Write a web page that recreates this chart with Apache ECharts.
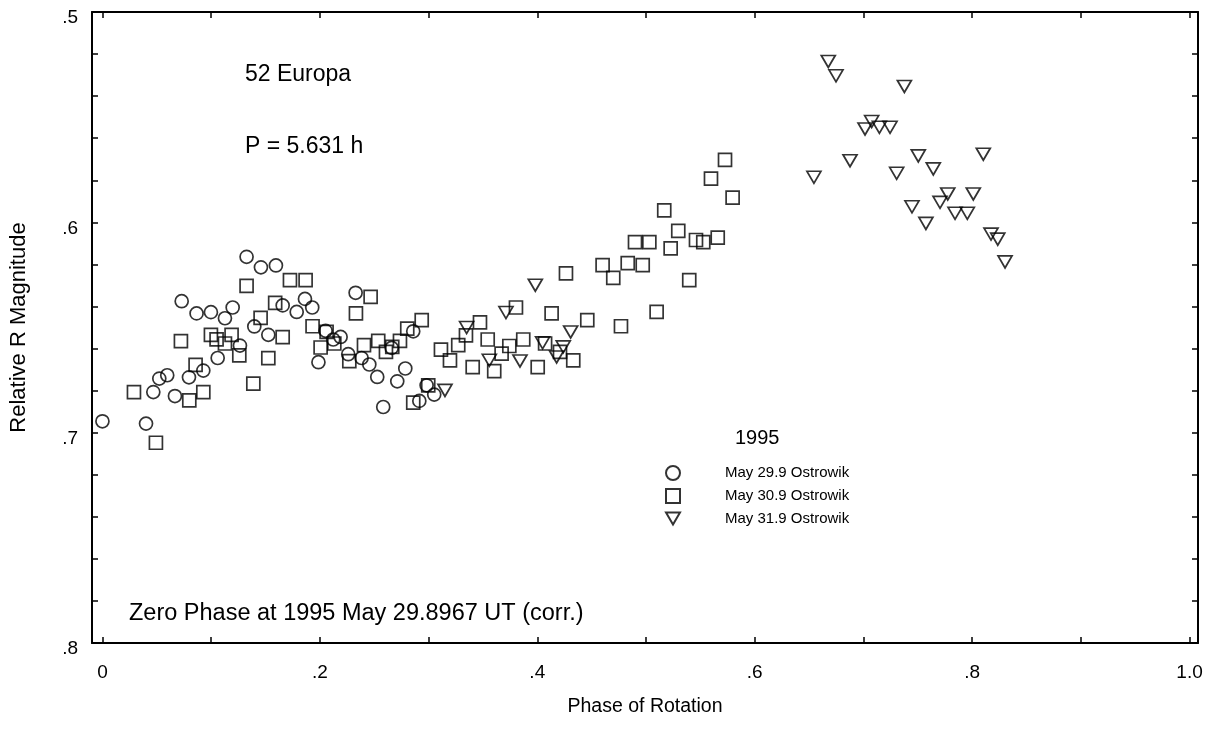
<!DOCTYPE html>
<html>
<head>
<meta charset="utf-8">
<script src="https://cdn.jsdelivr.net/npm/echarts@6/dist/echarts.min.js"></script>
<style>
  html, body { margin: 0; padding: 0; background: #fff; }
  #chart { width: 1215px; height: 742px; }
</style>
</head>
<body>
<div id="chart"></div>
<script>
// phase of rotation, relative R magnitude
const may29 = [
  [0.000, 0.6946], [0.0401, 0.6957], [0.0468, 0.6807], [0.0523, 0.6743], [0.0596, 0.6727],
  [0.0667, 0.6826], [0.0729, 0.6375], [0.0796, 0.6737], [0.0866, 0.6433], [0.0928, 0.6705],
  [0.0998, 0.6427], [0.1060, 0.6645], [0.1127, 0.6456], [0.1198, 0.6405], [0.1265, 0.6586],
  [0.1326, 0.6164], [0.1397, 0.6495], [0.1458, 0.6214], [0.1526, 0.6535], [0.1596, 0.6205],
  [0.1658, 0.6395], [0.1787, 0.6426], [0.1863, 0.6364], [0.1930, 0.6405], [0.1987, 0.6665],
  [0.2053, 0.6516], [0.2123, 0.6557], [0.2191, 0.6545], [0.2261, 0.6627], [0.2329, 0.6335],
  [0.2384, 0.6645], [0.2455, 0.6676], [0.2528, 0.6735], [0.2583, 0.6878], [0.2661, 0.6597],
  [0.2712, 0.6756], [0.2786, 0.6695], [0.2859, 0.6518], [0.2915, 0.6849], [0.2982, 0.6775],
  [0.3052, 0.6819]
];

const may30 = [
  [0.0290, 0.6807], [0.0492, 0.7048], [0.0722, 0.6565], [0.0799, 0.6846], [0.0857, 0.6678],
  [0.0928, 0.6807], [0.0998, 0.6535], [0.1050, 0.6556], [0.1127, 0.6576], [0.1188, 0.6535],
  [0.1259, 0.6633], [0.1326, 0.6302], [0.1388, 0.6767], [0.1455, 0.6454], [0.1526, 0.6646],
  [0.1589, 0.6383], [0.1658, 0.6546], [0.1725, 0.6275], [0.1869, 0.6275], [0.1933, 0.6494],
  [0.2007, 0.6595], [0.2062, 0.6521], [0.2133, 0.6576], [0.2271, 0.6660], [0.2332, 0.6433],
  [0.2406, 0.6584], [0.2467, 0.6354], [0.2537, 0.6564], [0.2608, 0.6616], [0.2666, 0.6592],
  [0.2737, 0.6564], [0.2804, 0.6505], [0.2859, 0.6857], [0.2937, 0.6465], [0.2997, 0.6775],
  [0.3114, 0.6605], [0.3197, 0.6656], [0.3273, 0.6584], [0.3344, 0.6537], [0.3406, 0.6688],
  [0.3473, 0.6476], [0.3544, 0.6557], [0.3604, 0.6707], [0.3672, 0.6624], [0.3743, 0.6588],
  [0.3804, 0.6405], [0.3871, 0.6557], [0.4004, 0.6688], [0.4072, 0.6576], [0.4132, 0.6433],
  [0.4209, 0.6616], [0.4264, 0.6243], [0.4331, 0.6656], [0.4460, 0.6465], [0.4601, 0.6203],
  [0.4699, 0.6264], [0.4770, 0.6494], [0.4832, 0.6194], [0.4899, 0.6094], [0.4970, 0.6203],
  [0.5031, 0.6094], [0.5098, 0.6426], [0.5168, 0.5943], [0.5227, 0.6124], [0.5297, 0.6041],
  [0.5398, 0.6275], [0.5460, 0.6084], [0.5527, 0.6094], [0.5598, 0.5792], [0.5660, 0.6073],
  [0.5727, 0.5703], [0.5797, 0.5883]
];

const may31 = [
  [0.3151, 0.6799], [0.3350, 0.6500], [0.3559, 0.6656], [0.3712, 0.6429], [0.3841, 0.6659],
  [0.3982, 0.6299], [0.4049, 0.6573], [0.4178, 0.6640], [0.4239, 0.6592], [0.4307, 0.6521],
  [0.6545, 0.5786], [0.6677, 0.5235], [0.6748, 0.5303], [0.6877, 0.5707], [0.7015, 0.5556],
  [0.7076, 0.5521], [0.7147, 0.5548], [0.7245, 0.5548], [0.7306, 0.5767], [0.7377, 0.5354],
  [0.7447, 0.5926], [0.7505, 0.5684], [0.7575, 0.6005], [0.7643, 0.5746], [0.7705, 0.5905],
  [0.7776, 0.5865], [0.7843, 0.5957], [0.7956, 0.5957], [0.8011, 0.5865], [0.8103, 0.5676],
  [0.8174, 0.6056], [0.8236, 0.6080], [0.8303, 0.6188]
];

const xTicks = [0, 0.1, 0.2, 0.3, 0.4, 0.5, 0.6, 0.7, 0.8, 0.9, 1.0];
const xLabels = [0, 0.2, 0.4, 0.6, 0.8, 1.0];

const FONT = '"Liberation Sans", Arial, Helvetica, sans-serif';
const triangleDown = 'path://M0,0L10,0L5,8.66Z';

let chart = echarts.init(document.getElementById('chart'));

function fmt(v) {
    if (v === 0) return '0';
    if (v === 1) return '1.0';
    return v.toFixed(1).replace(/^0/, '');
}

function xAxisDef(pos, showLabels) {
    return {
        type: 'value',
        position: pos,
        min: -0.0096,
        max: 1.0078,
        axisLine: { show: true, onZero: false, lineStyle: { color: '#000', width: 2 } },
        axisTick: { show: true, inside: true, length: 6, customValues: xTicks, lineStyle: { color: '#000', width: 1.5 } },
        axisLabel: {
            show: showLabels, customValues: xLabels, formatter: fmt,
            color: '#000', fontFamily: FONT, fontSize: 19, margin: 20
        },
        splitLine: { show: false },
        name: showLabels ? 'Phase of Rotation' : '',
        nameLocation: 'middle',
        nameGap: 54,
        nameTextStyle: { color: '#000', fontFamily: FONT, fontSize: 19.5 }
    };
}

function yAxisDef(pos, showLabels) {
    return {
        type: 'value',
        position: pos,
        inverse: true,
        min: 0.5,
        max: 0.8,
        interval: 0.1,
        axisLine: { show: true, onZero: false, lineStyle: { color: '#000', width: 2 } },
        axisTick: { show: true, inside: true, length: 6, lineStyle: { color: '#000', width: 1.5 } },
        minorTick: { show: true, splitNumber: 5, length: 6, lineStyle: { color: '#000', width: 1.5 } },
        axisLabel: {
            show: showLabels, formatter: fmt,
            color: '#000', fontFamily: FONT, fontSize: 19, margin: 14,
            verticalAlign: 'top', lineHeight: 12
        },
        splitLine: { show: false },
        minorSplitLine: { show: false },
        name: showLabels ? 'Relative R Magnitude' : '',
        nameLocation: 'middle',
        nameGap: 62,
        nameTextStyle: { color: '#000', fontFamily: FONT, fontSize: 22 }
    };
}

// marqueurs creux, contour noir
let markStyle = { color: 'rgba(0,0,0,0)', borderColor: '#000', borderWidth: 1.7 };

let option = {
    animation: false,
    backgroundColor: '#fff',
    grid: { left: 92, right: 17, top: 12, bottom: 99 },
    xAxis: [xAxisDef('bottom', true), xAxisDef('top', false)],
    yAxis: [yAxisDef('left', true), yAxisDef('right', false)],
    legend: {
        orient: 'vertical',
        left: 660,
        top: 460,
        itemWidth: 14,
        itemHeight: 14,
        itemGap: 7,
        data: ['May 29.9 Ostrowik', 'May 30.9 Ostrowik', 'May 31.9 Ostrowik'],
        textStyle: { color: '#000', fontFamily: FONT, fontSize: 15, padding: [0, 0, 0, 40] }
    },
    graphic: [
        { type: 'text', left: 245, top: 63, style: { text: '52 Europa', fontSize: 23, fontFamily: FONT, fill: '#000' } },
        { type: 'text', left: 245, top: 135, style: { text: 'P = 5.631 h', fontSize: 23, fontFamily: FONT, fill: '#000' } },
        { type: 'text', left: 129, top: 602, style: { text: 'Zero Phase at 1995 May 29.8967 UT (corr.)', fontSize: 23.5, fontFamily: FONT, fill: '#000' } },
        { type: 'text', left: 735, top: 428, style: { text: '1995', fontSize: 20, fontFamily: FONT, fill: '#000' } }
    ],
    series: [
        {
            name: 'May 29.9 Ostrowik', type: 'scatter', data: may29,
            symbol: 'circle', symbolSize: 13, itemStyle: markStyle
        },
        {
            name: 'May 30.9 Ostrowik', type: 'scatter', data: may30,
            symbol: 'rect', symbolSize: 13, itemStyle: markStyle
        },
        {
            name: 'May 31.9 Ostrowik', type: 'scatter', data: may31,
            symbol: triangleDown, symbolSize: [14, 12], itemStyle: markStyle
        }
    ]
};

chart.setOption(option);
</script>
</body>
</html>
